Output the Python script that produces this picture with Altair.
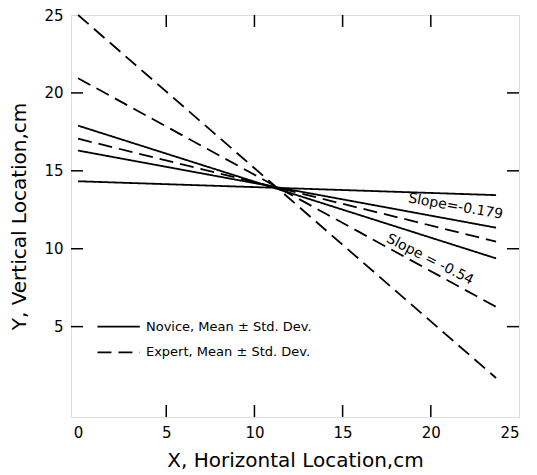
import altair as alt
import pandas as pd

# ---- data ----
x_start = 0.0
x_end = 23.7
novice_left = [17.9, 16.3, 14.33]
novice_right = [9.38, 11.35, 13.44]
expert_left = [25.0, 20.94, 17.06]
expert_right = [1.70, 6.27, 10.46]

novice_label = "Novice, Mean ± Std. Dev."
expert_label = "Expert, Mean ± Std. Dev."
groups = [novice_label, expert_label]

x_ticks = [0, 5, 10, 15, 20, 25]
y_ticks = [5, 10, 15, 20, 25]
inner_ticks = [5, 10, 15, 20]

slope_texts = ["Slope=-0.179", "Slope = -0.54"]
slope_x = [21.4, 19.95]
slope_y = [12.7, 9.3]
slope_angle = [10, 27]

# legend key (in data units)
legend_x0 = 1.1
legend_x1 = 3.5
legend_text_x = 3.85
legend_y = [5.0, 3.35]

W, H = 448, 402
FONT = "DejaVu Sans"

rows = []
for group, lefts, rights in [(novice_label, novice_left, novice_right),
                             (expert_label, expert_left, expert_right)]:
    for i, (a, b) in enumerate(zip(lefts, rights)):
        rows.append({"group": group, "line": f"{group}-{i}", "x": x_start, "y": a})
        rows.append({"group": group, "line": f"{group}-{i}", "x": x_end, "y": b})
lines_df = pd.DataFrame(rows)

xscale = alt.Scale(domain=[-0.4, 25], nice=False, zero=False)
yscale = alt.Scale(domain=[-0.8, 25], nice=False, zero=False)
dash_scale = alt.Scale(domain=groups, range=[[1, 0], [14, 7]])

lines = alt.Chart(lines_df).mark_line(color="black", strokeWidth=1.8).encode(
    x=alt.X("x:Q", scale=xscale,
            axis=alt.Axis(values=x_ticks, ticks=False, domain=False, grid=False,
                          labelPadding=8, labelFontSize=15, labelFont=FONT,
                          labelColor="black", title="X, Horizontal Location,cm",
                          titleFont=FONT, titleFontSize=20, titleFontWeight="normal",
                          titleColor="black", titlePadding=10)),
    y=alt.Y("y:Q", scale=yscale,
            axis=alt.Axis(values=y_ticks, ticks=False, domain=False, grid=False,
                          labelPadding=8, labelFontSize=15, labelFont=FONT,
                          labelColor="black", title="Y, Vertical Location,cm",
                          titleFont=FONT, titleFontSize=20, titleFontWeight="normal",
                          titleColor="black", titlePadding=14)),
    detail="line:N",
    strokeDash=alt.StrokeDash("group:N", scale=dash_scale, legend=None),
)

leg_df = pd.DataFrame({"group": groups, "x0": [legend_x0] * 2, "x1": [legend_x1] * 2,
                       "tx": [legend_text_x] * 2, "y": legend_y})
leg_lines = alt.Chart(leg_df).mark_rule(color="black", strokeWidth=1.6).encode(
    x=alt.X("x0:Q", scale=xscale), x2="x1:Q", y=alt.Y("y:Q", scale=yscale),
    strokeDash=alt.StrokeDash("group:N", scale=dash_scale, legend=None),
)
leg_text = alt.Chart(leg_df).mark_text(font=FONT, fontSize=13, color="black",
                                       align="left", baseline="middle").encode(
    x=alt.X("tx:Q", scale=xscale), y=alt.Y("y:Q", scale=yscale), text="group:N")

tick_df = pd.DataFrame({"t": inner_ticks})
xt = alt.Chart(tick_df).mark_rule(color="black", strokeWidth=1.5)
tick_layers = [
    xt.encode(x=alt.X("t:Q", scale=xscale), y=alt.value(H), y2=alt.value(H - 12)),
    xt.encode(x=alt.X("t:Q", scale=xscale), y=alt.value(0), y2=alt.value(12)),
    xt.encode(y=alt.Y("t:Q", scale=yscale), x=alt.value(0), x2=alt.value(12)),
    xt.encode(y=alt.Y("t:Q", scale=yscale), x=alt.value(W), x2=alt.value(W - 12)),
]

slope_df = pd.DataFrame({"text": slope_texts, "x": slope_x, "y": slope_y})
slopes = [
    alt.Chart(slope_df.iloc[[i]]).mark_text(font=FONT, fontSize=14, color="black",
                                            angle=slope_angle[i]).encode(
        x=alt.X("x:Q", scale=xscale), y=alt.Y("y:Q", scale=yscale), text="text:N")
    for i in range(len(slope_texts))
]

chart = alt.layer(lines, leg_lines, leg_text, *tick_layers, *slopes).properties(
    width=W, height=H,
    autosize=alt.AutoSizeParams(type="none"),
    padding={"left": 63, "top": 7, "right": 10, "bottom": 56},
).configure_view(stroke="black", strokeWidth=2).configure(background="white")

chart.save("out.html", embed_options={"renderer": "svg", "actions": False})
